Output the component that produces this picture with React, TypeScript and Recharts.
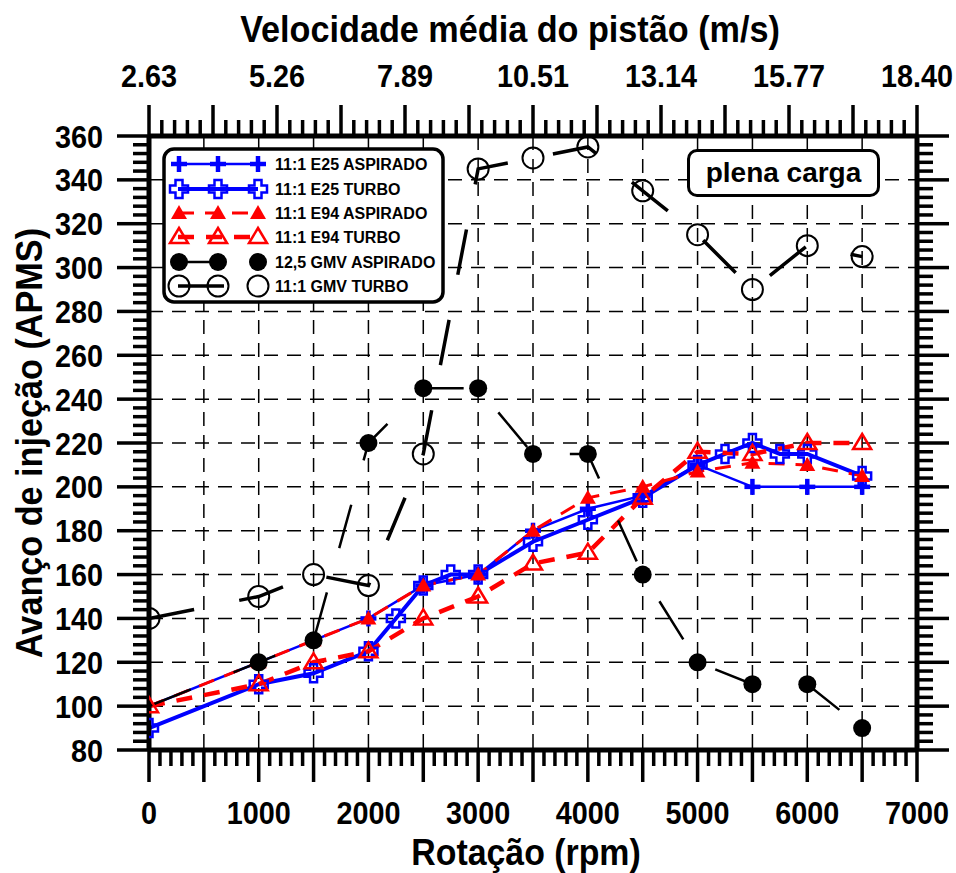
import React from 'react';
import { LineChart, Line, XAxis, YAxis, CartesianGrid } from 'recharts';

// rotação (rpm) e avanço de injeção (APMS)
const RPM = [0, 1000, 1500, 2000, 2500, 3000, 3500, 4000, 4500, 5000, 5500, 6000, 6500];
const E25_ASPIRADO = [100, 120, 130, 140, 155, 160, 180, 190, 196, 210, 200, 200, 200];
const E25_TURBO_RPM = [0, 1000, 1500, 2000, 2250, 2500, 2750, 3000, 3500, 4000, 4500, 5000, 5250, 5500, 5750, 6000, 6500];
const E25_TURBO = [90, 110, 115, 125, 140, 155, 160, 160, 175, 185, 195, 210, 215, 220, 215, 215, 205];
const E94_ASPIRADO = [100, 120, 130, 140, 155, 160, 180, 195, 200, 207, 211, 210, 205];
const E94_TURBO = [100, 110, 120, 125, 140, 150, 165, 170, 195, 216, 215, 220, 220];
const GMV_ASPIRADO = [100, 120, 130, 220, 245, 245, 215, 215, 160, 120, 110, 110, 90];
const GMV_TURBO = [140, 150, 160, 155, 215, 345, 350, 355, 335, 315, 290, 310, 305];

const RPM_LABELS = [0, 1000, 2000, 3000, 4000, 5000, 6000, 7000];
const Y_LABELS = [80, 100, 120, 140, 160, 180, 200, 220, 240, 260, 280, 300, 320, 340, 360];
const TOP_LABELS = ['2.63', '5.26', '7.89', '10.51', '13.14', '15.77', '18.40'];

const GRID_X = [500, 1000, 1500, 2000, 2500, 3000, 3500, 4000, 4500, 5000, 5500, 6000, 6500];
const GRID_Y = [100, 120, 140, 160, 180, 200, 220, 240, 260, 280, 300, 320, 340];

// minor ticks
const BOTTOM_TICKS = Array.from({ length: 71 }, (_, i) => i * 100);
const SIDE_TICKS = Array.from({ length: 71 }, (_, i) => 80 + i * 4);
const TOP_TICKS = Array.from({ length: 61 }, (_, i) => (i * 7000) / 60);

const BLUE = '#0000ff';
const RED = '#ff0000';
const BLACK = '#000000';
const FONT = "'Liberation Sans', Arial, sans-serif";
const SQUEEZE = 0.9;

type MarkerKind = 'plusFilled' | 'plusHollow' | 'triFilled' | 'triHollow' | 'dotFilled' | 'dotHollow';

function Marker({ kind, cx, cy }: { kind: MarkerKind; cx: number; cy: number }) {
  if (kind === 'plusFilled') {
    return (
      <g stroke={BLUE} strokeWidth={4.5}>
        <line x1={cx - 8} x2={cx + 8} y1={cy} y2={cy} />
        <line x1={cx} x2={cx} y1={cy - 8} y2={cy + 8} />
      </g>
    );
  }
  if (kind === 'plusHollow') {
    const a = 3.5;
    const l = 9;
    const d = `M${cx - a},${cy - l}H${cx + a}V${cy - a}H${cx + l}V${cy + a}H${cx + a}V${cy + l}H${cx - a}V${cy + a}H${cx - l}V${cy - a}H${cx - a}Z`;
    return <path d={d} fill="none" stroke={BLUE} strokeWidth={2.5} />;
  }
  if (kind === 'triFilled') {
    return <path d={`M${cx},${cy - 8}L${cx + 8},${cy + 6}L${cx - 8},${cy + 6}Z`} fill={RED} />;
  }
  if (kind === 'triHollow') {
    return (
      <path d={`M${cx},${cy - 9}L${cx + 9},${cy + 6}L${cx - 9},${cy + 6}Z`} fill="none" stroke={RED} strokeWidth={2.5} />
    );
  }
  if (kind === 'dotFilled') {
    return <circle cx={cx} cy={cy} r={9} fill={BLACK} />;
  }
  return <circle cx={cx} cy={cy} r={10.5} fill="none" stroke={BLACK} strokeWidth={2} />;
}

type Series = {
  name: string;
  x: number[];
  y: number[];
  color: string;
  width: number;
  dash?: string;
  marker: MarkerKind;
  skipZero?: boolean;
};

const SERIES: Series[] = [
  { name: '11:1 E25 ASPIRADO', x: RPM, y: E25_ASPIRADO, color: BLUE, width: 2.5, marker: 'plusFilled', skipZero: true },
  { name: '11:1 E25 TURBO', x: E25_TURBO_RPM, y: E25_TURBO, color: BLUE, width: 4, marker: 'plusHollow' },
  { name: '11:1 E94 ASPIRADO', x: RPM, y: E94_ASPIRADO, color: RED, width: 3, dash: '16 11', marker: 'triFilled', skipZero: true },
  { name: '11:1 E94 TURBO', x: RPM, y: E94_TURBO, color: RED, width: 4.5, dash: '16 12', marker: 'triHollow' },
  { name: '12,5 GMV ASPIRADO', x: RPM, y: GMV_ASPIRADO, color: BLACK, width: 2.5, dash: '45 46', marker: 'dotFilled', skipZero: true },
  { name: '11:1 GMV TURBO', x: RPM, y: GMV_TURBO, color: BLACK, width: 3.5, dash: '46 46', marker: 'dotHollow' },
];

const near = (v: number, step: number) => Math.abs(v / step - Math.round(v / step)) < 1e-6;

function Label({ x, y, anchor, children }: { x: number; y: number; anchor: string; children: React.ReactNode }) {
  return (
    <text
      transform={`translate(${x},${y}) scale(${SQUEEZE},1)`}
      textAnchor={anchor}
      fontFamily={FONT}
      fontWeight="bold"
      fontSize={32}
      fill={BLACK}
    >
      {children}
    </text>
  );
}

function BottomTick(props: any) {
  const { x, y, payload } = props;
  const v = payload.value;
  const len = near(v, 500) ? 32 : 16;
  return (
    <g>
      <line x1={x} x2={x} y1={y} y2={y + len} stroke={BLACK} strokeWidth={3.5} />
      {RPM_LABELS.includes(v) && (
        <Label x={x} y={y + 74} anchor="middle">
          {v}
        </Label>
      )}
    </g>
  );
}

function TopTick(props: any) {
  const { x, y, payload } = props;
  const k = Math.round((payload.value * 60) / 7000);
  const len = k % 5 === 0 ? 31 : 16;
  return (
    <g>
      <line x1={x} x2={x} y1={y} y2={y - len} stroke={BLACK} strokeWidth={3.5} />
      {k % 10 === 0 && (
        <Label x={x} y={y - 49} anchor="middle">
          {TOP_LABELS[k / 10]}
        </Label>
      )}
    </g>
  );
}

function LeftTick(props: any) {
  const { x, y, payload } = props;
  const v = payload.value;
  const len = near(v, 20) ? 32 : 16;
  return (
    <g>
      <line x1={x} x2={x - len} y1={y} y2={y} stroke={BLACK} strokeWidth={3.5} />
      {Y_LABELS.includes(v) && (
        <Label x={x - 46} y={y + 11.5} anchor="end">
          {v}
        </Label>
      )}
    </g>
  );
}

function RightTick(props: any) {
  const { x, y, payload } = props;
  const len = near(payload.value, 20) ? 32 : 16;
  return <line x1={x} x2={x + len} y1={y} y2={y} stroke={BLACK} strokeWidth={3.5} />;
}

function LegendBox() {
  const rows = [17, 42, 66, 90, 115, 139];
  return (
    <svg width={284} height={158} style={{ position: 'absolute', left: 162, top: 147 }}>
      <rect x={2} y={2} width={279} height={153} rx={10} fill="#fff" stroke={BLACK} strokeWidth={3.5} />
      {SERIES.map((s, i) => (
        <g key={s.name}>
          <line x1={16} x2={96} y1={rows[i]} y2={rows[i]} stroke={s.color} strokeWidth={s.width} strokeDasharray={s.dash} />
          {[17, 56, 96].map((mx) => (
            <Marker key={mx} kind={s.marker} cx={mx} cy={rows[i]} />
          ))}
          <text x={113} y={rows[i]} dy="0.36em" fontFamily={FONT} fontWeight="bold" fontSize={16} fill={BLACK}>
            {s.name}
          </text>
        </g>
      ))}
    </svg>
  );
}

const titleStyle: React.CSSProperties = {
  position: 'absolute',
  textAlign: 'center',
  fontFamily: FONT,
  fontWeight: 'bold',
  fontSize: 36,
  lineHeight: '44px',
  whiteSpace: 'nowrap',
};

export default function App() {
  return (
    <div style={{ position: 'absolute', left: 0, top: 0, width: 956, height: 873, background: '#fff' }}>
      <LineChart width={956} height={873} margin={{ top: 0, right: 0, bottom: 0, left: 0 }}>
        <CartesianGrid
          xAxisId="rpm"
          yAxisId="left"
          verticalValues={GRID_X}
          horizontalValues={GRID_Y}
          stroke={BLACK}
          strokeWidth={1.5}
          strokeDasharray="14 9"
        />
        <XAxis
          xAxisId="rpm"
          type="number"
          dataKey="rpm"
          domain={[0, 7000]}
          allowDataOverflow
          ticks={BOTTOM_TICKS}
          interval={0}
          height={123}
          tickSize={0}
          tickMargin={0}
          tickLine={false}
          axisLine={{ stroke: BLACK, strokeWidth: 5 }}
          tick={<BottomTick />}
        />
        <XAxis
          xAxisId="top"
          orientation="top"
          type="number"
          dataKey="rpm"
          domain={[0, 7000]}
          allowDataOverflow
          ticks={TOP_TICKS}
          interval={0}
          height={136}
          tickSize={0}
          tickMargin={0}
          tickLine={false}
          axisLine={{ stroke: BLACK, strokeWidth: 5 }}
          tick={<TopTick />}
        />
        <YAxis
          yAxisId="left"
          type="number"
          domain={[80, 360]}
          allowDataOverflow
          ticks={SIDE_TICKS}
          interval={0}
          width={149}
          tickSize={0}
          tickMargin={0}
          tickLine={false}
          axisLine={{ stroke: BLACK, strokeWidth: 5 }}
          tick={<LeftTick />}
        />
        <YAxis
          yAxisId="right"
          orientation="right"
          type="number"
          domain={[80, 360]}
          allowDataOverflow
          ticks={SIDE_TICKS}
          interval={0}
          width={39}
          tickSize={0}
          tickMargin={0}
          tickLine={false}
          axisLine={{ stroke: BLACK, strokeWidth: 5 }}
          tick={<RightTick />}
        />
        {/* invisible series so the top (velocidade) axis gets a scale */}
        <Line
          xAxisId="top"
          yAxisId="right"
          type="linear"
          data={RPM.map((rpm, i) => ({ rpm, val: GMV_TURBO[i] }))}
          dataKey="val"
          stroke="none"
          dot={false}
          activeDot={false}
          legendType="none"
          isAnimationActive={false}
        />
        {SERIES.map((s) => (
          <Line
            key={s.name}
            xAxisId="rpm"
            yAxisId="left"
            type="linear"
            data={s.x.map((rpm, i) => ({ rpm, val: s.y[i] }))}
            dataKey="val"
            name={s.name}
            stroke={s.color}
            strokeWidth={s.width}
            strokeDasharray={s.dash}
            activeDot={false}
            isAnimationActive={false}
            dot={(p: any) =>
              s.skipZero && p.payload.rpm === 0 ? (
                <g key={p.index} />
              ) : (
                <Marker key={p.index} kind={s.marker} cx={p.cx} cy={p.cy} />
              )
            }
          />
        ))}
      </LineChart>

      <LegendBox />

      <div
        style={{
          position: 'absolute', left: 687, top: 149, width: 193, height: 48, boxSizing: 'border-box',
          border: '3.5px solid #000', borderRadius: 10, background: '#fff', display: 'flex',
          alignItems: 'center', justifyContent: 'center', fontFamily: FONT, fontWeight: 'bold', fontSize: 28,
        }}
      >
        plena carga
      </div>

      <div style={{ ...titleStyle, left: 0, width: 1020, top: 8, transform: 'scaleX(0.95)', transformOrigin: '510px 0' }}>
        Velocidade média do pistão (m/s)
      </div>
      <div style={{ ...titleStyle, left: 0, width: 1052, top: 831, transform: 'scaleX(0.94)', transformOrigin: '526px 0' }}>
        Rotação (rpm)
      </div>
      <div
        style={{
          ...titleStyle, left: 30 - 300, top: 443 - 22, width: 600, height: 44,
          transform: 'rotate(-90deg) scaleX(0.95)',
        }}
      >
        Avanço de injeção (APMS)
      </div>
    </div>
  );
}
